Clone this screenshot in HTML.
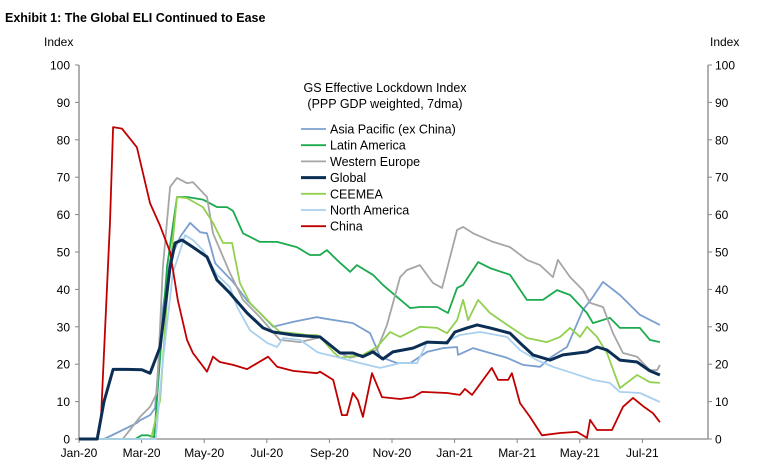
<!DOCTYPE html>
<html><head><meta charset="utf-8"><style>
body{margin:0;background:#fff;}
svg{display:block;font-family:"Liberation Sans",Arial,sans-serif;}
</style></head><body>
<svg id="chart" width="767" height="468" viewBox="0 0 767 468" xmlns="http://www.w3.org/2000/svg">
<text x="5" y="22" font-size="12.5" font-weight="bold">Exhibit 1: The Global ELI Continued to Ease</text>
<text x="44" y="46" font-size="12">Index</text>
<text x="710" y="46" font-size="12">Index</text>
<g id="axes"></g>
<g id="series"></g>
<g id="legend"></g>
</svg>
<script>
const yTicks=[0,10,20,30,40,50,60,70,80,90,100];
const xTickLabels=["Jan-20","Mar-20","May-20","Jul-20","Sep-20","Nov-20","Jan-21","Mar-21","May-21","Jul-21"];
const xTickMonths=[0,2,4,6,8,10,12,14,16,18];
const seriesNames=["Asia Pacific (ex China)","Latin America","Western Europe","Global","CEEMEA","North America","China"];
// months since Jan-2020 / index values
const apM=[0,0.8,1.2,1.85,1.95,2.27,2.43,2.68,2.91,3.23,3.55,3.87,4.09,4.35,4.92,5.37,5.78,6.2,6.84,7.6,7.7,8.75,9.3,9.62,10.16,10.58,11.12,11.63,12.08,12.11,12.59,13.13,13.67,14.19,14.73,15.05,15.59,16.1,16.42,16.74,17.28,17.92,18.56];
const apV=[0,0,1.6,4.3,5,6.4,8.3,35,48,54,57.8,55.3,55,47,42,37,33.7,30,31.3,32.6,32.4,31,28.3,22,20.3,20.3,23.3,24.3,24.6,22.5,24.3,23,21.7,19.8,19.3,21.7,24.6,34.5,38,42,38.5,33.2,30.5];
const laM=[0,1.8,2.0,2.2,2.4,2.81,3.13,3.45,3.96,4.41,4.73,4.92,5.24,5.78,6.33,6.96,7.38,7.7,7.92,8.24,8.66,8.88,9.39,9.71,10.16,10.58,10.89,11.44,11.79,12.08,12.27,12.75,13.13,13.77,14.31,14.82,15.27,15.69,16.23,16.42,16.96,17.28,17.92,18.24,18.56];
const laV=[0,0,1,1,0.5,46,64.7,64.7,64,62,62,61,55,52.7,52.7,51.3,49.2,49.2,50.5,47.9,44.7,46.5,43.9,41.2,38,35,35.3,35.3,33.7,40.4,41.2,47.3,45.7,43.9,37.2,37.2,39.8,38.5,33.7,31,32.4,29.7,29.7,26.5,25.9];
const weM=[0,1.4,1.95,2.27,2.49,2.68,2.91,3.13,3.45,3.64,4.09,4.28,4.82,5.24,5.78,6.42,7.06,7.6,7.7,8.34,8.66,9.07,9.52,9.84,10.26,10.48,10.89,11.31,11.6,12.08,12.27,12.59,13.23,13.77,14.31,14.73,15.14,15.3,15.69,16.1,16.33,16.74,17.06,17.38,17.83,18.24,18.47,18.56];
const weV=[0,0,5.9,8.6,12.3,46,67.4,69.8,68.4,68.7,64.7,55,44.4,37.2,32.6,26.5,25.9,27,27.3,23,21.7,22.5,23.8,30.5,43.3,45.2,46.5,41.7,40.4,55.9,56.7,55,52.7,51.3,47.9,46.5,43.3,47.9,43.3,39.8,36.4,35.3,28.3,23,22,18.4,18.4,19.8];
const glM=[0,0.58,0.8,1.09,1.5,2.01,2.27,2.59,2.91,3.07,3.29,3.64,4.09,4.41,4.82,5.37,5.88,6.2,6.84,7.6,7.7,8.34,8.75,9.07,9.39,9.71,10.03,10.67,11.12,11.76,12.01,12.4,12.72,13.13,13.77,14.09,14.5,15.05,15.46,16.23,16.55,16.87,17.28,17.83,18.24,18.56];
const glV=[0,0,10,18.6,18.6,18.5,17.6,24.6,46,52.4,53.2,51.3,48.7,42.5,39,33.7,29.7,28.6,27.8,27.3,27.3,23,23,22,23.3,21.4,23.3,24.3,25.9,25.7,28.6,29.7,30.5,29.7,28.3,25.7,22.5,21.1,22.5,23.3,24.6,23.8,21.1,20.6,18.2,17.1];
const ceM=[0,2.3,2.59,2.81,3.13,3.45,3.96,4.28,4.6,4.89,5.14,5.46,6.01,6.42,6.84,7.28,7.6,7.7,8.12,8.34,9.07,9.52,9.94,10.26,10.89,11.44,11.76,12.08,12.27,12.43,12.75,13.13,13.77,14.31,14.95,15.37,15.69,16.01,16.23,16.55,16.87,17.28,17.83,18.24,18.56];
const ceV=[0,0,10.4,37.2,64.7,64.4,62,57.8,52.4,52.4,41.7,36.4,31.8,28.6,28.3,27.8,27.8,27.3,23.3,21.7,22.5,24.6,28.6,27.3,30,29.7,28.3,31.8,37.2,31.8,37.2,33.7,30,27,25.9,27.3,29.7,27.3,30,27.3,23,13.6,17.1,15.2,15];
const naM=[0,2.45,2.68,3.0,3.39,3.64,3.96,4.41,4.82,5.05,5.46,6.01,6.33,6.52,7.06,7.6,7.7,8.34,8.98,9.62,10.26,10.8,11.12,11.63,12.17,12.81,13.67,14.09,14.63,15.14,15.78,16.42,16.96,17.28,17.92,18.56];
const naV=[0,0,21,44.4,54.5,53.2,50.5,43.9,40.6,35.3,29.1,25.7,24.6,27,26.5,23.3,23,21.7,20.3,19,20.3,20.3,25.9,25.7,27.8,28.6,27.3,23.8,21.1,19.3,17.6,15.8,15,12.6,12.3,9.9];
const chM=[0,0.58,0.7,0.99,1.09,1.37,1.85,2.27,2.59,2.91,3.16,3.45,3.64,4.09,4.28,4.5,4.92,5.37,6.04,6.33,6.84,7.6,7.7,8.12,8.4,8.56,8.75,8.91,9.07,9.36,9.68,10.26,10.67,10.96,11.76,12.17,12.33,12.56,13.19,13.39,13.71,13.83,14.09,14.41,14.79,15.37,15.91,16.23,16.33,16.55,17.03,17.38,17.7,18.02,18.34,18.56];
const chV=[0,0,5,58,83.4,83,78,63,57,50,37,26.5,23,18,22,20.6,19.8,18.7,22,19.3,18.2,17.6,18,15.8,6.4,6.4,12.3,10.4,5.9,17.6,11.2,10.7,11.2,12.6,12.3,11.8,13.4,11.8,19,15.8,15.8,17.6,9.6,5.9,1,1.6,1.9,0.3,5.1,2.4,2.4,8.6,11,8.8,6.9,4.5];

const X0=79,X1=708,Y0=439,Y1=65,PXM=31.3;
const xs=m=>X0+m*PXM;
const ys=v=>Y0-(v/100)*(Y0-Y1);
const NS="http://www.w3.org/2000/svg";
function mk(tag,attrs,parent){const e=document.createElementNS(NS,tag);for(const k in attrs)e.setAttribute(k,attrs[k]);parent.appendChild(e);return e;}
const ax=document.getElementById('axes');
let e;
e=mk('line',{x1:X0,y1:Y1,x2:X0,y2:Y0,stroke:'#868686','stroke-width':1.3},ax);


e=mk('line',{x1:X1,y1:Y1,x2:X1,y2:Y0,stroke:'#868686','stroke-width':1.3},ax);


e=mk('line',{x1:X0,y1:Y0,x2:X1,y2:Y0,stroke:'#868686','stroke-width':1.3},ax);


yTicks.forEach(v=>{
  const y=ys(v);
  mk('line',{x1:X0-4,y1:y,x2:X0,y2:y,stroke:'#868686'},ax);
  mk('line',{x1:X1,y1:y,x2:X1+4,y2:y,stroke:'#868686'},ax);
  e=mk('text',{x:X0-9,y:y+4.5,'font-size':12,'text-anchor':'end'},ax);e.textContent=v;
  
  
  e=mk('text',{x:X1+7,y:y+4.5,'font-size':12},ax);e.textContent=v;
  
  
});
xTickMonths.forEach((m,i)=>{
  const x=xs(m);
  mk('line',{x1:x,y1:Y0,x2:x,y2:Y0+4,stroke:'#868686'},ax);
  e=mk('text',{x:x,y:Y0+18,'font-size':12,'text-anchor':'middle'},ax);e.textContent=xTickLabels[i];
  
  
});
const colors=['#7B9FCF','#1BAA4D','#A6A6A6','#0B2E55','#92D050','#A9D0EE','#C00000'];
const widths=[1.8,1.8,1.8,3,1.8,1.8,1.8];
const data=[[apM,apV],[laM,laV],[weM,weV],[glM,glV],[ceM,ceV],[naM,naV],[chM,chV]];
const names=['asia-pacific-line','latin-america-line','western-europe-line','global-line','ceemea-line','north-america-line','china-line'];
const order=[0,1,2,4,5,6,3];
const sg=document.getElementById('series');
order.forEach(i=>{
  const [M,V]=data[i];
  const d=M.map((m,j)=>(j?'L':'M')+xs(m).toFixed(1)+' '+ys(V[j]).toFixed(1)).join(' ');
  const p=mk('path',{d:d,fill:'none',stroke:colors[i],'stroke-width':widths[i],'stroke-linejoin':'round'},sg);
  
  
});
const lg=document.getElementById('legend');
e=mk('text',{x:385,y:92,'font-size':12.5,'text-anchor':'middle'},lg);e.textContent='GS Effective Lockdown Index';


e=mk('text',{x:385,y:108,'font-size':12.5,'text-anchor':'middle'},lg);e.textContent='(PPP GDP weighted, 7dma)';


seriesNames.forEach((n,i)=>{
  const y=129+i*16.2;
  const g=mk('g',{},lg);
  
  
  mk('line',{x1:301,y1:y,x2:326,y2:y,stroke:colors[i],'stroke-width':widths[i]},g);
  const t=mk('text',{x:330,y:y+4.5,'font-size':12.5},g);t.textContent=n;
});
</script>
</body></html>
